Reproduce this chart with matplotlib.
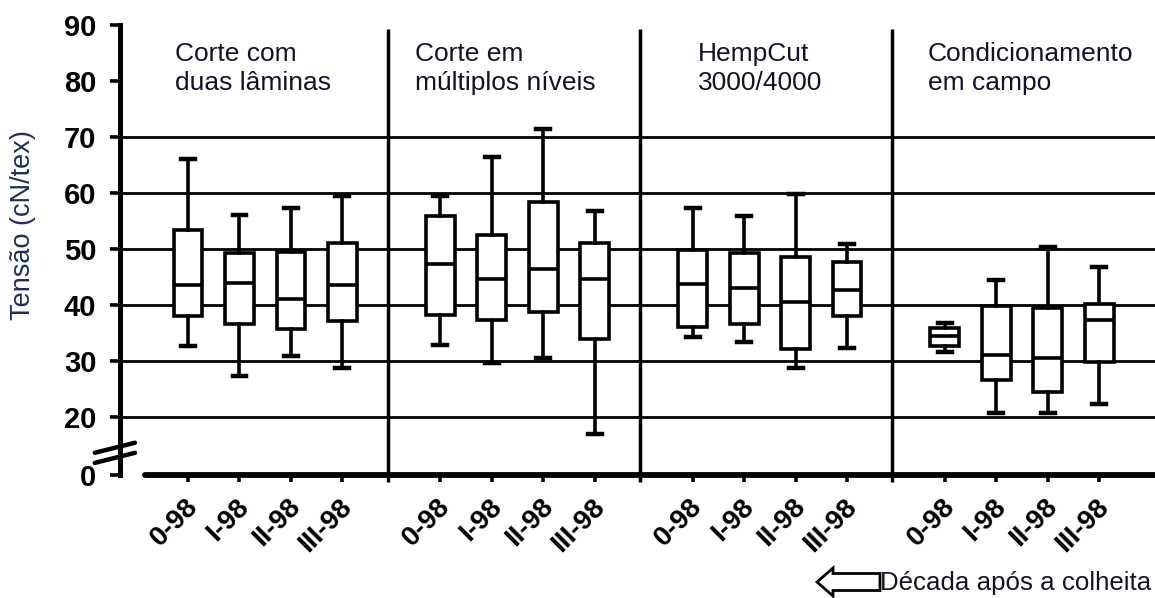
import matplotlib
matplotlib.use("Agg")
import matplotlib.pyplot as plt
from matplotlib.patches import FancyArrow
from matplotlib.transforms import ScaledTranslation

plt.rcParams["font.family"] = ["Liberation Sans", "DejaVu Sans"]

# Harvesting methods (one panel each) and decade samples inside each panel
GROUPS = ["Corte com\nduas lâminas", "Corte em\nmúltiplos níveis",
          "HempCut\n3000/4000", "Condicionamento\nem campo"]
DECADES = ["0-98", "I-98", "II-98", "III-98"]

# Tenacity (cN/tex) box statistics, one row per harvesting method
WHIS_HI = [[66.0, 56.1, 57.4, 59.5],
           [59.5, 66.4, 71.4, 56.8],
           [57.3, 55.9, 59.9, 50.9],
           [36.8, 44.5, 50.4, 46.8]]
Q3 = [[53.3, 49.2, 49.5, 51.1],
      [55.9, 52.5, 58.3, 51.1],
      [49.8, 49.3, 48.6, 47.6],
      [35.9, 39.8, 39.4, 40.2]]
MEDIAN = [[43.6, 43.9, 41.1, 43.6],
          [47.3, 44.6, 46.5, 44.6],
          [43.8, 43.0, 40.6, 42.7],
          [34.5, 31.1, 30.5, 37.3]]
Q1 = [[38.0, 36.6, 35.7, 37.2],
      [38.2, 37.3, 38.8, 34.0],
      [36.0, 36.6, 32.1, 38.0],
      [32.6, 26.6, 24.5, 29.9]]
WHIS_LO = [[32.7, 27.3, 30.9, 28.8],
           [32.9, 29.6, 30.5, 17.0],
           [34.3, 33.4, 28.7, 32.3],
           [31.6, 20.7, 20.7, 22.3]]

Y_TICKS = [20, 30, 40, 50, 60, 70, 80, 90]
GRID_LEVELS = [20, 30, 40, 50, 60, 70]

# layout of the broken axis
ZERO_AT = 9.6          # where "0" sits below the axis break
GROUP_STEP = 4.9
X_LEFT, X_RIGHT = -1.32, 18.78
TITLE_DX = [-0.25, -0.5, 0.1, -0.33]

TEXT_C = "#12132a"
LABEL_C = "#1f2d5e"

fig = plt.figure(figsize=(11.55, 5.98), dpi=100)
ax = fig.add_axes([0.1039, 0.195, 1 - 0.1039, 0.768])
ax.set_xlim(X_LEFT, X_RIGHT)
ax.set_ylim(8.5, 90.5)

positions, stats = [], []
for g in range(len(GROUPS)):
    for j in range(len(DECADES)):
        positions.append(g * GROUP_STEP + j)
        stats.append(dict(med=MEDIAN[g][j], q1=Q1[g][j], q3=Q3[g][j],
                          whislo=WHIS_LO[g][j], whishi=WHIS_HI[g][j],
                          fliers=[]))

# horizontal rules and panel separators
ax.hlines(GRID_LEVELS, X_LEFT, X_RIGHT, color="black", lw=2, zorder=1)
seps = [g * GROUP_STEP - 1.02 for g in range(1, len(GROUPS))]
ax.vlines(seps, ZERO_AT - 1.2, 89.2, color="black", lw=2.5, zorder=1,
          clip_on=False)

lw = 2.6
ax.bxp(stats, positions=positions, widths=0.56, capwidths=0.27,
       patch_artist=True, showfliers=False, manage_ticks=False, zorder=3,
       boxprops=dict(facecolor="white", edgecolor="black", linewidth=lw),
       medianprops=dict(color="black", linewidth=lw),
       whiskerprops=dict(color="black", linewidth=lw),
       capprops=dict(color="black", linewidth=3.2))

# axes: thick left spine with a break, x axis drawn at the "0" level
for side in ("top", "right"):
    ax.spines[side].set_visible(False)
ax.spines["left"].set_linewidth(3.6)
ax.spines["left"].set_bounds(ZERO_AT, 90)
ax.spines["bottom"].set_position(("data", ZERO_AT))
ax.spines["bottom"].set_linewidth(4.2)
ax.spines["bottom"].set_bounds(-0.83, X_RIGHT)
ax.spines["bottom"].set_capstyle("round")

for y0, y1 in ((13.6, 15.4), (11.8, 13.6)):
    ax.plot([-1.81, -1.03], [y0, y1], color="black", lw=3.2,
            solid_capstyle="round", clip_on=False, zorder=5)

ax.set_yticks([ZERO_AT] + Y_TICKS)
ax.set_yticklabels(["0"] + [str(v) for v in Y_TICKS],
                   fontsize=21, fontweight="bold")
ax.tick_params(axis="y", direction="out", length=7, width=2.6, pad=10)

ax.set_xticks(positions)
ax.set_xticklabels(DECADES * len(GROUPS), rotation=45, ha="right",
                   va="center", rotation_mode="anchor",
                   fontsize=20, fontweight="bold")
ax.tick_params(axis="x", direction="out", length=5, width=2.6, pad=15)
nudge = ScaledTranslation(6 / 100, 0, fig.dpi_scale_trans)
for lbl in ax.get_xticklabels():
    lbl.set_transform(lbl.get_transform() + nudge)

for g, title in enumerate(GROUPS):
    ax.text(g * GROUP_STEP + TITLE_DX[g], 87.0, title, ha="left", va="top",
            fontsize=19, color=TEXT_C, linespacing=1.3)

fig.text(23 / 1155, 1 - 225 / 598, "Tensão (cN/tex)", rotation=90,
         ha="center", va="center", fontsize=19.5, color=LABEL_C)

# outlined arrow pointing left, then the x-axis caption
arrow = FancyArrow(880 / 1155, 1 - 582 / 598, -63 / 1155, 0,
                   width=17 / 598, head_width=28 / 598,
                   head_length=16 / 1155, length_includes_head=True,
                   transform=fig.transFigure, facecolor="white",
                   edgecolor="black", linewidth=2)
fig.add_artist(arrow)
fig.text(880 / 1155, 1 - 590 / 598, "Década após a colheita",
         ha="left", va="baseline", fontsize=18.6, color=TEXT_C)

fig.savefig("out.png", dpi=100)
